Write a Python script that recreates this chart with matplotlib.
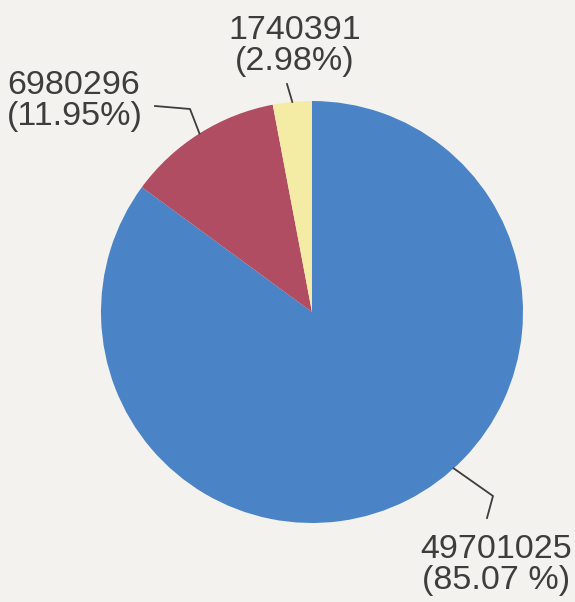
import numpy as np
import matplotlib.pyplot as plt

plt.rcParams['font.family'] = ['Liberation Sans', 'DejaVu Sans']

# data
values = [49701025, 6980296, 1740391]
percents = ['85.07 %', '11.95%', '2.98%']
colors = ['#4b84c6', '#b04d62', '#f4eba4']

W, H = 575, 602
fig = plt.figure(figsize=(W / 100, H / 100), dpi=100)
fig.patch.set_facecolor('#f4f2ee')
ax = fig.add_axes([0, 0, 1, 1])

cx, cy, r = 312, 312, 211
# y axis is inverted below, so counterclock=True comes out clockwise on screen
wedges, _ = ax.pie(values, colors=colors, startangle=-90, counterclock=True,
                   center=(cx, cy), radius=r, frame=True,
                   wedgeprops=dict(linewidth=0))
ax.set_xlim(0, W)
ax.set_ylim(H, 0)
ax.set_aspect('equal')
ax.axis('off')

def edge_point(ang):
    a = np.deg2rad(ang)
    return cx + r * np.cos(a), cy + r * np.sin(a)

txt = dict(fontsize=24.5, color='#3d3d3d', linespacing=0.98)
lc = '#3d3d3d'

# blue slice label
w = wedges[0]
ex, ey = edge_point(w.theta1 + 0.45 * (w.theta2 - w.theta1))
ax.plot([ex, 493, 487], [ey, 496, 518], color=lc, lw=1.3)
ax.text(496, 565, f'{values[0]}\n({percents[0]})', ha='center', va='center', **txt)

# red slice label
w = wedges[1]
ex, ey = edge_point((w.theta1 + w.theta2) / 2)
ax.plot([155, 190, ex], [106, 109, ey], color=lc, lw=1.3)
ax.text(7, 101, f'{values[1]}\n({percents[1]})', ha='left', va='center', **txt)

# yellow slice label
w = wedges[2]
ex, ey = edge_point((w.theta1 + w.theta2) / 2)
ax.plot([287, ex], [84, ey], color=lc, lw=1.3)
ax.text(295, 46, f'{values[2]}\n({percents[2]})', ha='center', va='center', **txt)

fig.savefig('out.png', dpi=100, facecolor=fig.get_facecolor())
